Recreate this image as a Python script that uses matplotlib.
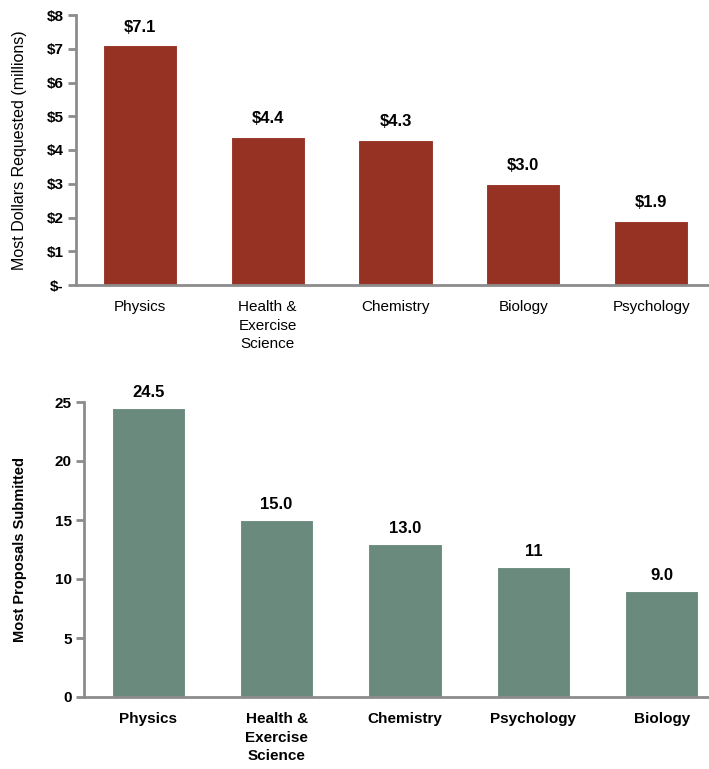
import matplotlib.pyplot as plt
from matplotlib.ticker import FixedLocator

plt.rcParams['font.family'] = ['Liberation Sans', 'DejaVu Sans']

# dollars requested (millions)
dollar_cats = ['Physics', 'Health &\nExercise\nScience', 'Chemistry', 'Biology', 'Psychology']
dollar_vals = [7.1, 4.4, 4.3, 3.0, 1.9]
dollar_labels = ['$7.1', '$4.4', '$4.3', '$3.0', '$1.9']
dollar_ticks = [0, 1, 2, 3, 4, 5, 6, 7, 8]
dollar_ticklabels = ['$-', '$1', '$2', '$3', '$4', '$5', '$6', '$7', '$8']

# proposals submitted
prop_cats = ['Physics', 'Health &\nExercise\nScience', 'Chemistry', 'Psychology', 'Biology']
prop_vals = [24.5, 15.0, 13.0, 11, 9.0]
prop_labels = ['24.5', '15.0', '13.0', '11', '9.0']
prop_ticks = [0, 5, 10, 15, 20, 25]

RED = '#963223'
GREEN = '#6a8a7e'
GRAY = '#8c8c8c'

W, H = 709, 769
fig = plt.figure(figsize=(W / 100, H / 100), dpi=100)


def style(ax):
    for s in ['top', 'right']:
        ax.spines[s].set_visible(False)
    for s in ['left', 'bottom']:
        ax.spines[s].set_color(GRAY)
        ax.spines[s].set_linewidth(2)
    ax.tick_params(axis='y', direction='out', length=6, width=2, color=GRAY, pad=3)
    ax.tick_params(axis='x', length=0, pad=11)
    for t in ax.get_yticklabels():
        t.set_fontweight('bold')
        t.set_fontsize(11)
    for t in ax.get_xticklabels():
        t.set_fontsize(11)
        t.set_verticalalignment('top')
        t.set_linespacing(1.4)


# top chart
ax1 = fig.add_axes([76 / W, 1 - 285 / H, 639 / W, 270 / H])
x = range(len(dollar_cats))
ax1.bar(x, dollar_vals, width=0.58, color=RED, edgecolor='white', linewidth=0.8)
ax1.set_xlim(-0.5, 4.5)
ax1.set_ylim(0, 8)
ax1.yaxis.set_major_locator(FixedLocator(dollar_ticks))
ax1.set_yticklabels(dollar_ticklabels)
ax1.set_xticks(list(x))
ax1.set_xticklabels(dollar_cats)
ax1.set_ylabel('Most Dollars Requested (millions)', fontsize=11.5, labelpad=14)
for i, (v, lab) in enumerate(zip(dollar_vals, dollar_labels)):
    ax1.annotate(lab, (i, v), xytext=(0, 13), textcoords='offset points',
                 ha='center', va='center', fontsize=12, fontweight='bold')
style(ax1)

# bottom chart
ax2 = fig.add_axes([84 / W, 1 - 697 / H, 642 / W, 295 / H])
x = range(len(prop_cats))
ax2.bar(x, prop_vals, width=0.57, color=GREEN, edgecolor='white', linewidth=0.8)
ax2.set_xlim(-0.5, 4.5)
ax2.set_ylim(0, 25)
ax2.yaxis.set_major_locator(FixedLocator(prop_ticks))
ax2.set_xticks(list(x))
ax2.set_xticklabels(prop_cats, fontweight='bold')
ax2.set_ylabel('Most Proposals Submitted', fontsize=10.5, fontweight='bold', labelpad=20)
for i, (v, lab) in enumerate(zip(prop_vals, prop_labels)):
    ax2.annotate(lab, (i, v), xytext=(0, 11), textcoords='offset points',
                 ha='center', va='center', fontsize=12, fontweight='bold')
style(ax2)
for t in ax2.get_xticklabels():
    t.set_fontweight('bold')

fig.savefig('out.png', dpi=100)
